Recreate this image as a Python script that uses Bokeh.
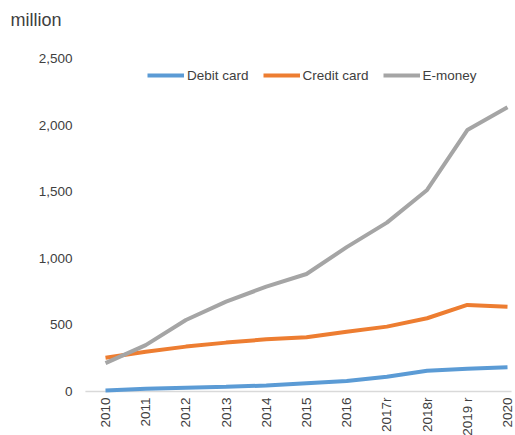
import math
from bokeh.plotting import figure
from bokeh.models import Range1d, Legend, LegendItem
from bokeh.core.properties import value
from bokeh.embed import file_html
from bokeh.resources import INLINE

years = [2010, 2011, 2012, 2013, 2014, 2015, 2016, 2017, 2018, 2019, 2020]
year_labels = ["2010", "2011", "2012", "2013", "2014", "2015", "2016", "2017r", "2018r", "2019 r", "2020"]
debit = [8, 20, 28, 35, 45, 62, 79, 111, 156, 171, 182]
credit = [253, 298, 337, 367, 392, 407, 449, 487, 550, 650, 637]
emoney = [213, 348, 537, 675, 787, 882, 1084, 1268, 1513, 1963, 2134]
y_ticks = [0, 500, 1000, 1500, 2000, 2500]
y_tick_labels = ["0", "500", "1,000", "1,500", "2,000", "2,500"]
unit_label = "million"

FONT = "Liberation Sans"
TXT = "#404040"

# the plot frame covers the whole canvas; axis texts are drawn as text glyphs
p = figure(width=515, height=435, output_backend="svg", toolbar_location=None,
           x_range=Range1d(2007.388, 2020.199), y_range=Range1d(-330.3, 2935.4),
           min_border_left=0, min_border_right=0, min_border_top=0, min_border_bottom=0)
p.outline_line_color = None
p.xgrid.visible = False
p.ygrid.visible = False
p.xaxis.visible = False
p.yaxis.visible = False

# category axis baseline
p.segment(x0=[years[0] - 0.5], x1=[years[-1] + 0.1], y0=[0], y1=[0],
          line_color="#d9d9d9", line_width=1.5)

r1 = p.line(years, debit, line_color="#5b9bd5", line_width=4)
r2 = p.line(years, credit, line_color="#ed7d31", line_width=4)
r3 = p.line(years, emoney, line_color="#a5a5a5", line_width=4)

# x tick labels
p.text(x=years, y=[0] * len(years), text=year_labels, angle=math.pi / 2,
       y_offset=6, text_align="right", text_baseline="middle",
       text_font=value(FONT), text_font_size="13.5px", text_color=TXT)

# y tick labels
p.text(x=[years[0]] * len(y_ticks), y=y_ticks, text=y_tick_labels,
       x_offset=-33, text_align="right", text_baseline="middle",
       text_font=value(FONT), text_font_size="13.5px", text_color=TXT)

# unit label
p.text(x=[years[0]], y=[y_ticks[-1]], text=[unit_label],
       x_offset=-95, y_offset=-38, text_align="left", text_baseline="middle",
       text_font=value(FONT), text_font_size="18px", text_color=TXT)

legend = Legend(items=[LegendItem(label="Debit card", renderers=[r1]),
                       LegendItem(label="Credit card", renderers=[r2]),
                       LegendItem(label="E-money", renderers=[r3])],
                orientation="horizontal", location=(147, 350),
                glyph_width=37, glyph_height=20, label_standoff=3, spacing=14,
                padding=0, margin=0, border_line_color=None, background_fill_alpha=0,
                label_text_font=FONT, label_text_font_size="13.5px", label_text_color=TXT)
p.add_layout(legend, "center")

open("out.html", "w").write(file_html(p, INLINE))
